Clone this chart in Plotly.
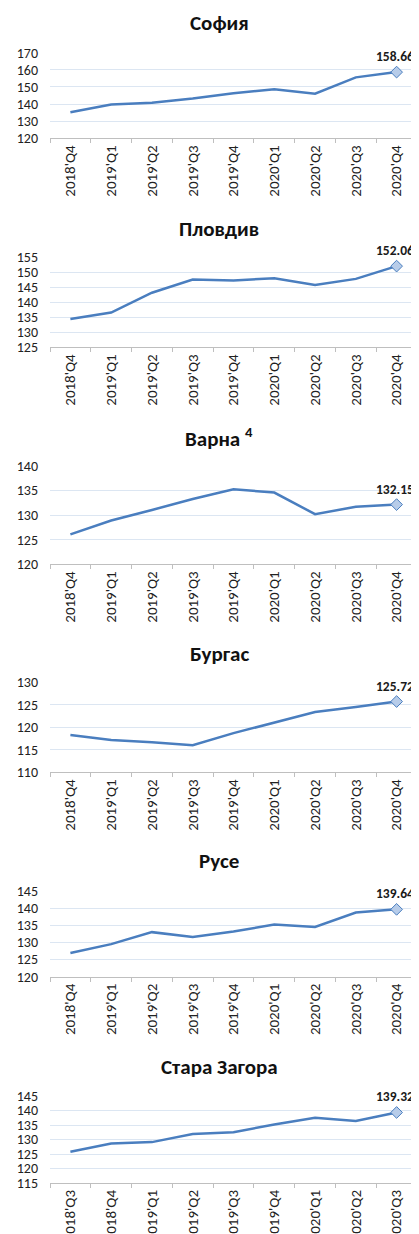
import plotly.graph_objects as go

# the page body adds an 8px offset; the figure is sized/positioned to compensate
OFF = 8
W, H = 419 - OFF, 1234 - OFF

titles = ["София", "Пловдив", "Варна <sup>4</sup>", "Бургас", "Русе", "Стара Загора"]

cats_a = ["2018'Q4", "2019'Q1", "2019'Q2", "2019'Q3", "2019'Q4",
          "2020'Q1", "2020'Q2", "2020'Q3", "2020'Q4"]
cats_b = ["2018'Q3", "2018'Q4", "2019'Q1", "2019'Q2", "2019'Q3",
          "2019'Q4", "2020'Q1", "2020'Q2", "2020'Q3"]

sofia = [135.2, 139.8, 140.8, 143.2, 146.3, 148.6, 146.1, 155.6, 158.66]
plovdiv = [134.4, 136.6, 143.2, 147.6, 147.3, 148.0, 145.8, 147.8, 152.06]
varna = [126.1, 128.9, 131.05, 133.3, 135.25, 134.6, 130.2, 131.7, 132.15]
burgas = [118.3, 117.2, 116.7, 116.0, 118.7, 121.0, 123.4, 124.5, 125.72]
ruse = [126.9, 129.5, 133.0, 131.6, 133.2, 135.2, 134.5, 138.7, 139.64]
stara_zagora = [125.8, 128.6, 129.1, 131.9, 132.5, 135.2, 137.5, 136.4, 139.32]

series = [sofia, plovdiv, varna, burgas, ruse, stara_zagora]
categories = [cats_a, cats_a, cats_a, cats_a, cats_a, cats_b]

y_ranges = [(120, 170, 10), (125, 155, 5), (120, 140, 5),
            (110, 130, 5), (120, 145, 5), (115, 145, 5)]

# layout geometry (page pixels)
plot_px = [(52.7, 138.3), (257.3, 347.3), (466, 564.3),
           (682.3, 772.3), (891, 976.7), (1096, 1183)]
title_px = [23.5, 228.7, 437.5, 653.8, 860.8, 1067]

ML, MR = 50 - OFF, 2
PW = W - ML - MR

FONT = "Carlito, Lato, 'Liberation Sans', sans-serif"
LINE = "#4a7ebf"

fig = go.Figure()
annotations = []
for i, (vals, cats) in enumerate(zip(series, categories)):
    n = i + 1
    xa = "x" if n == 1 else f"x{n}"
    ya = "y" if n == 1 else f"y{n}"
    fig.add_trace(go.Scatter(
        x=cats, y=vals, mode="lines", xaxis=xa, yaxis=ya,
        line=dict(color=LINE, width=2.5), showlegend=False, hoverinfo="x+y"))
    fig.add_trace(go.Scatter(
        x=[cats[-1]], y=[vals[-1]], mode="markers", xaxis=xa, yaxis=ya,
        marker=dict(symbol="diamond", size=9, color="#b7cce9",
                    line=dict(color=LINE, width=1)),
        showlegend=False, hoverinfo="skip", cliponaxis=False))
    annotations.append(dict(
        text=f"<b>{vals[-1]:.2f}</b>", xref=xa, yref=ya,
        x=cats[-1], y=vals[-1], xanchor="center", yanchor="bottom",
        xshift=-2, yshift=5, showarrow=False,
        font=dict(family=FONT, size=13.5, color="#1a1a1a")))
    top, bot = plot_px[i]
    top -= OFF
    bot -= OFF
    lo, hi, dt = y_ranges[i]
    xkey = "xaxis" if n == 1 else f"xaxis{n}"
    ykey = "yaxis" if n == 1 else f"yaxis{n}"
    fig.update_layout(**{
        xkey: dict(domain=[0, 1], anchor=ya, type="category",
                   tickangle=-90, tickson="boundaries", ticks="outside",
                   ticklen=4, tickcolor="#bfbfbf", showline=True,
                   linecolor="#bfbfbf", linewidth=1, showgrid=False,
                   tickfont=dict(family=FONT, size=15, color="#222"),
                   range=[-0.5, 8.5], fixedrange=True, automargin=False),
        ykey: dict(domain=[1 - bot / H, 1 - top / H], anchor=xa,
                   range=[lo, hi], dtick=dt, tick0=lo, showgrid=True,
                   gridcolor="#dce6f2", gridwidth=1, zeroline=False,
                   showline=False, ticks="", ticklabelstandoff=11,
                   tickfont=dict(family=FONT, size=14, color="#222"),
                   fixedrange=True, automargin=False),
    })
    annotations.append(dict(
        text=f"<b>{titles[i]}</b>", xref="paper", yref="paper",
        x=(219 - OFF - ML) / PW, y=1 - (title_px[i] - OFF) / H,
        xanchor="center", yanchor="middle", showarrow=False,
        font=dict(family=FONT, size=21, color="#111")))

fig.update_layout(
    width=W, height=H, margin=dict(l=ML, r=MR, t=0, b=0, autoexpand=False),
    paper_bgcolor="white", plot_bgcolor="white",
    annotations=annotations,
)

fig.write_html("out.html")
